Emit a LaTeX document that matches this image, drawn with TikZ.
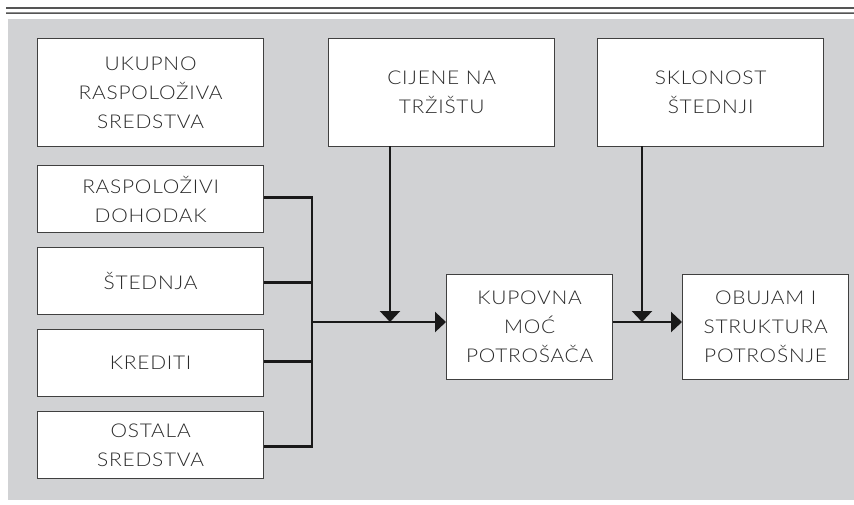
\documentclass[tikz,border=0pt]{standalone}
\usepackage{fontspec}
\setmainfont{Lato Light}[LetterSpace=4,FakeStretch=1.1]
\usetikzlibrary{arrows.meta}
\definecolor{bggray}{HTML}{D1D2D4}
\definecolor{rule}{HTML}{555555}
\definecolor{txt}{HTML}{2A2A2A}
\begin{document}
\begin{tikzpicture}[x=1pt,y=-1pt,
  box/.style={draw=black!75,line width=1.3pt,fill=white,anchor=north west,
    align=center,text=txt,inner sep=0pt,
    font=\fontsize{19}{29}\selectfont},
  conn/.style={line width=2.5pt,draw=black!90},
  arr/.style={conn,-{Triangle[length=11pt,width=20pt]}}]
\useasboundingbox (0,0) rectangle (854,504);
% header rules
\fill[bggray] (8,19) rectangle (854,500);
\draw[rule,line width=1.2pt] (6,8) -- (854,8);
\fill[black!45] (6,11.5) rectangle (854,13);
\fill[rule] (6,13) rectangle (854,14.3);
% boxes
\node[box,minimum width=226pt,minimum height=108pt] (uk) at (37,38) {UKUPNO\\RASPOLOŽIVA\\SREDSTVA};
\node[box,minimum width=226pt,minimum height=108pt] (ci) at (328,38) {CIJENE NA\\TRŽIŠTU};
\node[box,minimum width=226pt,minimum height=108pt] (sk) at (597,38) {SKLONOST\\ŠTEDNJI};
\node[box,minimum width=226pt,minimum height=67pt] (rd) at (37,165) {RASPOLOŽIVI\\DOHODAK};
\node[box,minimum width=226pt,minimum height=67pt] (st) at (37,247) {ŠTEDNJA};
\node[box,minimum width=226pt,minimum height=67pt] (kr) at (37,329) {KREDITI};
\node[box,minimum width=226pt,minimum height=67pt] (os) at (37,411) {OSTALA\\SREDSTVA};
\node[box,minimum width=166pt,minimum height=105pt] (ku) at (446,274) {KUPOVNA\\MOĆ\\POTROŠAČA};
\node[box,minimum width=166pt,minimum height=105pt] (ob) at (682,274) {OBUJAM I\\STRUKTURA\\POTROŠNJE};
% connectors
\coordinate (j) at (312,322);
\coordinate (c1) at (390,146);
\coordinate (c2) at (642,146);
\draw[conn] ([yshift=1.5pt]rd.east) -| (j);
\draw[conn] ([yshift=-1.5pt]os.east) -| (j);
\draw[conn] ([yshift=-1.5pt]st.east) -- ([yshift=-1.5pt]st.east -| j);
\draw[conn] ([yshift=1.5pt]kr.east) -- ([yshift=1.5pt]kr.east -| j);
\draw[arr] (j) -- (ku.west |- j);
\draw[arr] (c1) -- (c1 |- j);
\draw[arr] (ku.east |- j) -- (ob.west |- j);
\draw[arr] (c2) -- (c2 |- j);
\end{tikzpicture}
\end{document}
